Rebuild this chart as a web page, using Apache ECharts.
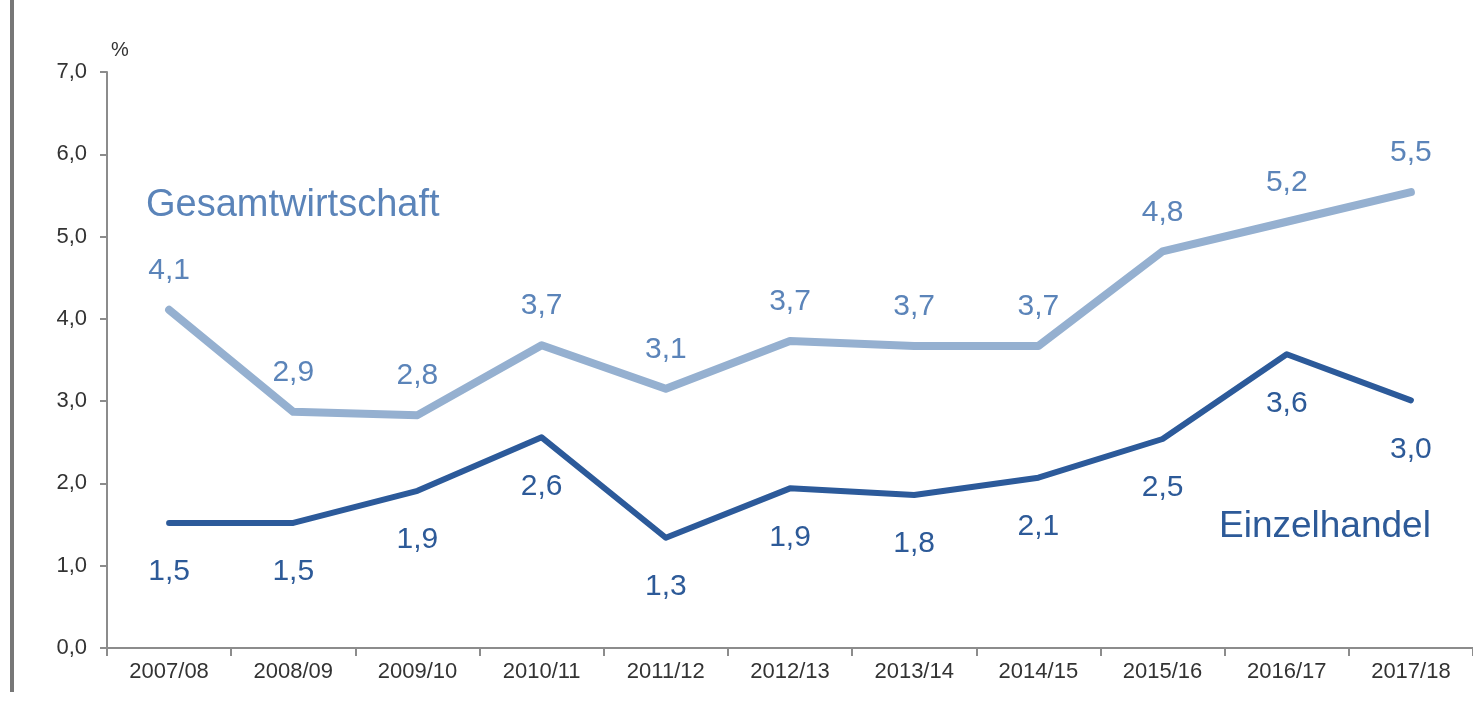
<!DOCTYPE html>
<html>
<head>
<meta charset="utf-8">
<script src="https://cdn.jsdelivr.net/npm/echarts@6/dist/echarts.min.js"></script>
<style>
  html, body { margin: 0; padding: 0; background: #fff; }
  #chart { width: 1473px; height: 703px; }
</style>
</head>
<body>
<div id="chart"></div>
<script>
var years = ['2007/08', '2008/09', '2009/10', '2010/11', '2011/12', '2012/13', '2013/14', '2014/15', '2015/16', '2016/17', '2017/18']
var gesamt = [4.11, 2.87, 2.83, 3.68, 3.15, 3.73, 3.67, 3.67, 4.82, 5.18, 5.54]
var gesamtLabels = ['4,1', '2,9', '2,8', '3,7', '3,1', '3,7', '3,7', '3,7', '4,8', '5,2', '5,5']
var einzel = [1.52, 1.52, 1.91, 2.56, 1.34, 1.94, 1.86, 2.07, 2.54, 3.57, 3.01]
var einzelLabels = ['1,5', '1,5', '1,9', '2,6', '1,3', '1,9', '1,8', '2,1', '2,5', '3,6', '3,0']

var chart = echarts.init(document.getElementById('chart'))
chart.setOption({
  animation: false,
  grid: {
    left: 107,
    top: 72,
    width: 1371,
    height: 576
  },
  graphic: [
    // grauer Balken links
    { type: 'rect', shape: { x: 10, y: 0, width: 4, height: 692 }, style: { fill: '#777' } },
    { type: 'text', left: 111, top: 40, style: { text: '%', fontSize: 20, fill: '#333', fontFamily: 'Liberation Sans' } },
    { type: 'text', left: 146, top: 187, style: { text: 'Gesamtwirtschaft', fontSize: 38, fill: '#5b84b9', fontFamily: 'Liberation Sans' } },
    { type: 'text', left: 1219, top: 508, style: { text: 'Einzelhandel', fontSize: 37, fill: '#2d5a98', fontFamily: 'Liberation Sans' } }
  ],
  xAxis: {
    type: 'category',
    data: years,
    boundaryGap: true,
    axisLine: { lineStyle: { color: '#8c8c8c', width: 2 } },
    axisTick: { show: true, length: 8, lineStyle: { color: '#8c8c8c', width: 2 } },
    axisLabel: { color: '#333', fontSize: 22, margin: 13, fontFamily: 'Liberation Sans' }
  },
  yAxis: {
    type: 'value',
    min: 0,
    max: 7,
    interval: 1,
    splitLine: { show: false },
    axisLine: { show: true, lineStyle: { color: '#8c8c8c', width: 2 } },
    axisTick: { show: true, length: 7, lineStyle: { color: '#8c8c8c', width: 2 } },
    axisLabel: {
      color: '#333',
      fontSize: 22,
      margin: 20,
      fontFamily: 'Liberation Sans',
      formatter: function (v) { return v.toFixed(1).replace('.', ',') }
    }
  },
  series: [
    {
      name: 'Gesamtwirtschaft',
      type: 'line',
      data: gesamt,
      symbol: 'circle',
      symbolSize: 2,
      showSymbol: true,
      itemStyle: { color: 'rgba(0,0,0,0)' },
      lineStyle: { color: '#95b0d0', width: 8, cap: 'round', join: 'round' },
      label: {
        show: true,
        position: 'top',
        distance: 23,
        fontSize: 30,
        color: '#5b84b9',
        fontFamily: 'Liberation Sans',
        formatter: function (p) { return gesamtLabels[p.dataIndex] }
      },
      z: 2
    },
    {
      name: 'Einzelhandel',
      type: 'line',
      data: einzel,
      symbol: 'circle',
      symbolSize: 2,
      showSymbol: true,
      itemStyle: { color: 'rgba(0,0,0,0)' },
      lineStyle: { color: '#2c5a9a', width: 6, cap: 'round', join: 'round' },
      label: {
        show: true,
        position: 'bottom',
        distance: 33,
        fontSize: 30,
        color: '#2d5a98',
        fontFamily: 'Liberation Sans',
        formatter: function (p) { return einzelLabels[p.dataIndex] }
      },
      z: 3
    }
  ]
})
</script>
</body>
</html>
